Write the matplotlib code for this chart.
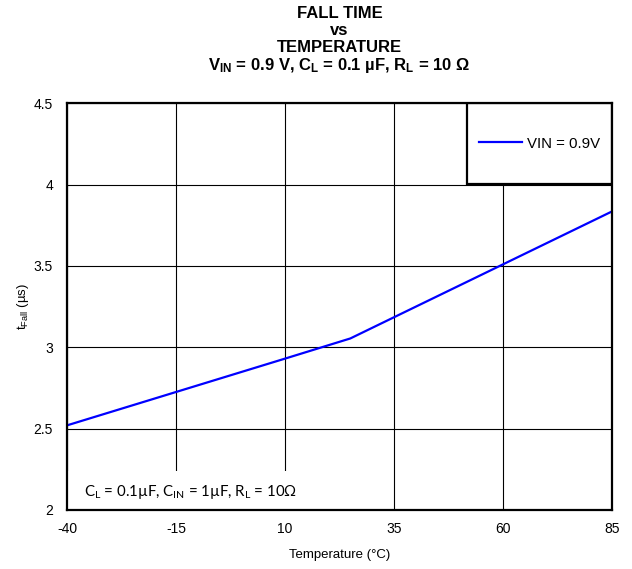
import numpy as np
import matplotlib
matplotlib.use("Agg")
import matplotlib.pyplot as plt
from matplotlib.patches import Rectangle

# data
temperature = [-40, -15, 10, 25, 35, 60, 85]
t_fall = [2.52, 2.725, 2.93, 3.054, 3.184, 3.509, 3.834]
x_ticks = [-40, -15, 10, 35, 60, 85]
y_ticks = [2, 2.5, 3, 3.5, 4, 4.5]
y_tick_labels = ["2", "2.5", "3", "3.5", "4", "4.5"]

plt.rcParams['font.family'] = ['Liberation Sans', 'DejaVu Sans']
plt.rcParams['mathtext.default'] = 'regular'
plt.rcParams['axes.unicode_minus'] = False

fig = plt.figure(figsize=(6.32, 5.69), dpi=100)
ax = fig.add_axes([0.106, 0.1037, 0.862, 0.715])

ax.plot(temperature, t_fall, color='#0000FF', lw=1.6, zorder=3, label='VIN = 0.9V')

ax.set_xlim(-40, 85)
ax.set_ylim(2, 4.5)
ax.set_xticks(x_ticks)
ax.set_yticks(y_ticks)
ax.set_yticklabels(y_tick_labels)
ax.tick_params(length=0, labelsize=10)
ax.tick_params(axis='x', pad=9)
ax.tick_params(axis='y', pad=10)
ax.grid(True, color='black', lw=0.8)
ax.set_axisbelow(True)
for s in ax.spines.values():
    s.set_linewidth(1.6)
    s.set_zorder(6)

ax.set_xlabel('Temperature (°C)', fontsize=9.5, labelpad=9)
ax.set_ylabel(r'$t_{Fall}$ (µs)', fontsize=9.5, labelpad=2)

# legend box in top-right cell
ax.add_patch(Rectangle((0.734, 0.801), 0.266, 0.199, transform=ax.transAxes,
                       facecolor='white', edgecolor='black', lw=1.6, zorder=4))
leg = ax.legend(loc='center', bbox_to_anchor=(0.734, 0.801, 0.266, 0.199),
                frameon=False, fontsize=10.8, handlelength=2.9, handletextpad=0.3)
leg.set_zorder(5)

# conditions note bottom-left
ax.add_patch(Rectangle((0, 0), 0.462, 0.097, transform=ax.transAxes,
                       facecolor='white', edgecolor='none', zorder=4))
ax.text(0.031, 0.045, r'C$_L$ = 0.1µF, C$_{IN}$ = 1µF, R$_L$ = 10Ω',
        transform=ax.transAxes, fontsize=10.8, family=['Lato', 'DejaVu Sans'],
        va='center', ha='left', zorder=5)

title_lines = ['FALL TIME', 'vs', 'TEMPERATURE',
               r'V$_{IN}$ = 0.9 V, C$_L$ = 0.1 µF, R$_L$ = 10 Ω']
title_y = [0.977, 0.946, 0.916, 0.885]
for txt, yy in zip(title_lines, title_y):
    fig.text(0.537, yy, txt, ha='center', va='center',
             fontsize=12, fontweight='bold')

fig.savefig('out.png', dpi=100)
